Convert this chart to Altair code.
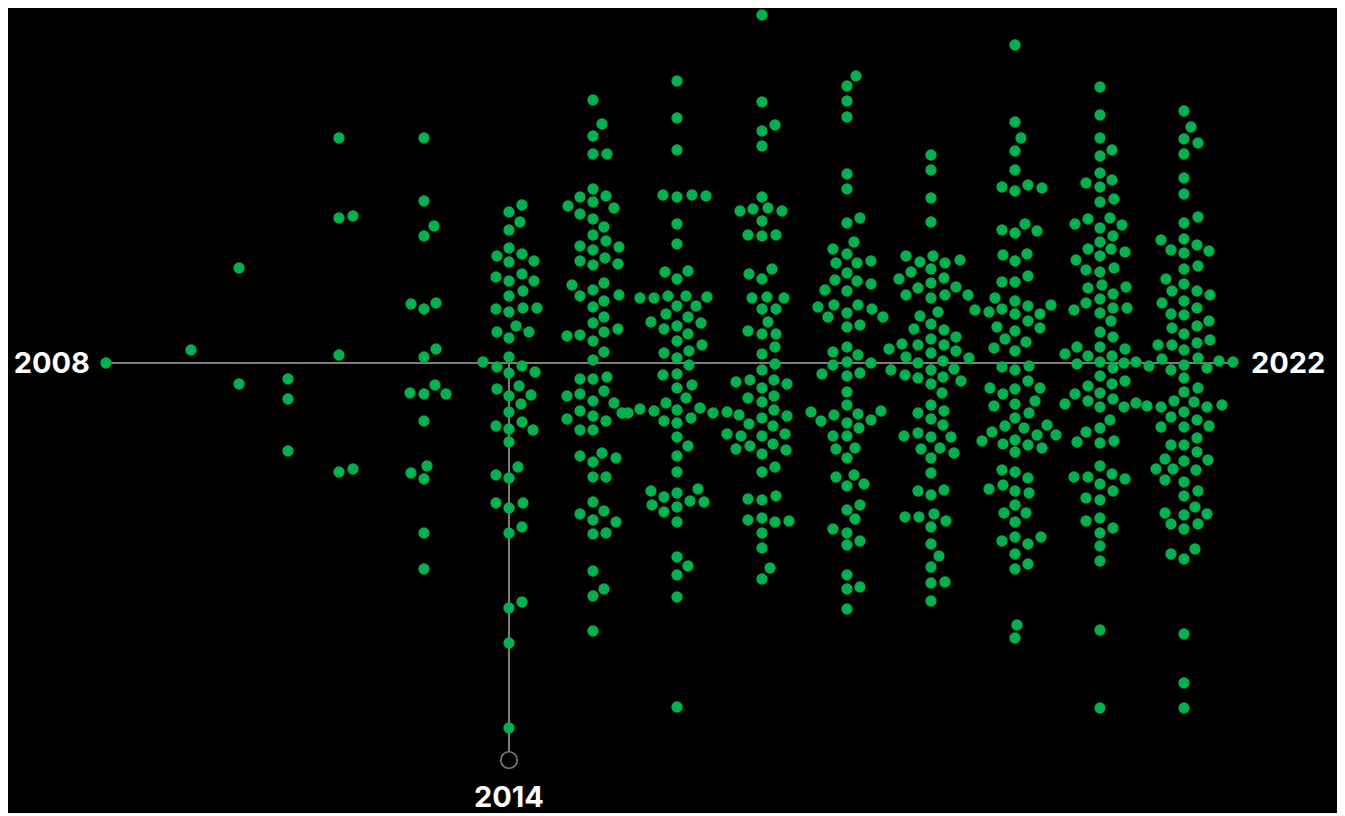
import altair as alt
import pandas as pd

# Each dot: (timeline position, value relative to the baseline; positive = above)
dots_2008 = [(106, 0)]
dots_2009 = [(191, 13)]
dots_2010 = [(239, 95), (239, -21)]
dots_2011 = [(288, -16), (288, -36), (288, -88)]
dots_2012 = [(339, 225), (339, 145), (353, 147), (339, 8), (339, -109), (353, -106)]
dots_2013 = [(424, 225), (424, 162), (434, 137), (424, 127), (411, 59), (424, 54), (436, 60),
             (424, 6), (436, 14), (410, -30), (424, -31), (435, -22), (446, -31), (424, -58),
             (411, -110), (427, -103), (424, -116), (424, -170), (424, -206)]
dots_2014 = [(522, 158), (509, 151), (520, 141), (509, 133), (509, 115), (497, 107), (522, 109),
             (509, 101), (534, 102), (496, 86), (522, 89), (509, 82), (534, 82), (509, 67),
             (523, 72), (496, 54), (509, 51), (523, 55), (537, 55), (497, 31), (516, 37),
             (509, 25), (529, 31), (509, 6), (483, 1), (497, -4), (522, -3), (509, -10),
             (535, -9), (497, -26), (519, -23), (509, -33), (531, -32), (521, -41), (509, -49),
             (496, -63), (509, -66), (522, -59), (533, -67), (509, -79), (518, -104), (496, -112),
             (509, -115), (496, -140), (509, -145), (523, -140), (509, -170), (522, -164),
             (509, -245), (522, -239), (509, -280), (509, -365)]
dots_2015 = [(593, 263), (602, 239), (593, 227), (593, 209), (607, 209), (593, 174), (580, 166),
             (606, 167), (568, 157), (593, 161), (614, 155), (580, 149), (593, 144), (604, 136),
             (593, 128), (580, 117), (606, 122), (593, 113), (619, 116), (605, 105), (580, 102),
             (593, 98), (618, 99), (572, 78), (604, 80), (580, 67), (593, 73), (619, 68), (604, 62),
             (593, 56), (604, 46), (593, 40), (567, 27), (580, 28), (604, 31), (618, 34), (593, 22),
             (604, 11), (593, 3), (580, -16), (593, -16), (607, -14), (567, -33), (580, -31),
             (604, -28), (593, -38), (614, -40), (580, -48), (567, -56), (593, -53), (606, -58),
             (622, -50), (628, -50), (580, -67), (593, -67), (580, -93), (593, -99), (602, -90),
             (616, -95), (593, -114), (606, -114), (593, -139), (580, -151), (604, -148),
             (593, -157), (616, -159), (593, -171), (606, -170), (593, -208), (604, -226),
             (593, -233), (593, -268)]
dots_2016 = [(677, 282), (677, 245), (677, 213), (663, 168), (677, 166), (692, 168), (706, 167),
             (677, 139), (677, 119), (665, 91), (688, 92), (677, 84), (640, 65), (654, 65),
             (668, 67), (686, 67), (707, 66), (677, 57), (696, 57), (666, 49), (651, 41), (688, 46),
             (664, 34), (677, 37), (701, 40), (688, 29), (677, 22), (664, 10), (689, 12), (702, 18),
             (677, 5), (689, -2), (663, -12), (677, -11), (692, -22), (677, -25), (686, -35),
             (640, -46), (654, -48), (666, -40), (677, -47), (700, -45), (713, -50), (664, -58),
             (677, -60), (691, -55), (677, -74), (688, -83), (677, -93), (677, -109), (651, -128),
             (664, -134), (677, -130), (698, -126), (652, -142), (664, -149), (677, -144),
             (690, -138), (704, -139), (677, -159), (677, -194), (688, -203), (677, -212),
             (677, -234), (677, -344)]
dots_2017 = [(762, 348), (762, 261), (775, 238), (762, 232), (762, 217), (762, 166), (740, 152),
             (753, 154), (768, 155), (782, 152), (762, 142), (748, 128), (762, 127), (776, 128),
             (749, 89), (772, 94), (762, 84), (752, 65), (767, 66), (784, 65), (762, 54), (776, 54),
             (768, 41), (748, 32), (762, 29), (776, 29), (775, 16), (762, 9), (775, -1), (762, -7),
             (736, -19), (750, -17), (774, -17), (787, -21), (762, -25), (748, -35), (774, -33),
             (762, -39), (727, -49), (739, -52), (774, -47), (787, -53), (749, -61), (762, -55),
             (773, -63), (727, -71), (741, -73), (762, -73), (785, -71), (736, -86), (750, -83),
             (773, -81), (762, -91), (786, -87), (762, -109), (775, -104), (748, -136), (762, -137),
             (776, -133), (748, -157), (762, -155), (775, -159), (789, -158), (762, -170),
             (762, -185), (770, -205), (762, -216)]
dots_2018 = [(856, 287), (847, 277), (847, 262), (847, 246), (847, 189), (847, 174), (847, 140),
             (860, 145), (854, 121), (833, 114), (847, 109), (836, 100), (857, 100), (871, 102),
             (847, 90), (835, 83), (857, 82), (871, 79), (825, 73), (847, 72), (818, 56), (834, 58),
             (858, 58), (828, 46), (847, 50), (872, 54), (883, 46), (847, 36), (860, 38), (847, 16),
             (833, 11), (858, 8), (833, -2), (847, 1), (871, 0), (822, -11), (847, -13), (860, -10),
             (847, -29), (847, -42), (811, -49), (821, -58), (834, -52), (847, -60), (858, -51),
             (871, -57), (881, -48), (859, -65), (833, -73), (847, -73), (836, -86), (855, -85),
             (847, -95), (836, -114), (854, -112), (847, -123), (864, -121), (847, -147),
             (860, -142), (855, -156), (833, -166), (847, -170), (860, -178), (847, -182),
             (847, -212), (847, -226), (860, -224), (847, -246)]
dots_2019 = [(931, 208), (931, 193), (931, 165), (931, 141), (906, 107), (920, 101), (933, 107),
             (945, 100), (960, 103), (911, 91), (931, 94), (899, 84), (944, 85), (918, 75), (931, 80),
             (956, 76), (906, 68), (931, 65), (945, 68), (968, 68), (975, 53), (920, 47), (938, 51),
             (931, 39), (914, 34), (944, 33), (902, 19), (918, 18), (931, 24), (956, 26), (889, 14),
             (906, 6), (931, 10), (944, 18), (956, 12), (969, 5), (918, 0), (943, 2), (931, -7),
             (954, -6), (891, -7), (905, -12), (918, -15), (943, -14), (961, -18), (931, -21),
             (942, -30), (931, -42), (918, -50), (944, -48), (931, -56), (943, -62), (904, -73),
             (918, -70), (931, -74), (951, -74), (921, -86), (940, -85), (931, -95), (954, -90),
             (931, -110), (918, -128), (931, -132), (944, -127), (905, -154), (919, -154),
             (934, -151), (931, -164), (946, -158), (931, -181), (939, -193), (931, -204),
             (931, -220), (945, -219), (931, -238)]
dots_2020 = [(1015, 318), (1015, 241), (1021, 225), (1015, 212), (1015, 193), (1002, 176),
             (1015, 172), (1028, 178), (1042, 175), (1002, 133), (1015, 130), (1025, 139),
             (1037, 132), (1003, 108), (1015, 102), (1027, 109), (1002, 81), (1015, 81), (1028, 87),
             (995, 65), (1015, 62), (989, 51), (1002, 54), (1015, 49), (1028, 57), (1040, 49),
             (1051, 58), (997, 36), (1015, 32), (1028, 42), (1040, 35), (1005, 24), (1026, 21),
             (994, 15), (1015, 12), (1002, -4), (1015, -7), (1029, -3), (990, -25), (1003, -31),
             (1015, -26), (1028, -18), (1040, -25), (994, -43), (1015, -41), (1035, -38),
             (1015, -55), (1029, -50), (992, -69), (1005, -63), (1024, -65), (1047, -62), (982, -78),
             (1003, -81), (1015, -77), (1037, -72), (1056, -72), (1015, -89), (1028, -82),
             (1042, -85), (1002, -107), (1015, -109), (1028, -115), (989, -126), (1003, -122),
             (1015, -128), (1029, -130), (1015, -142), (1004, -150), (1026, -150), (1015, -159),
             (1002, -178), (1015, -174), (1028, -181), (1041, -174), (1015, -191), (1028, -201),
             (1015, -206), (1017, -262), (1015, -275)]
dots_2021 = [(1100, 276), (1100, 248), (1100, 225), (1112, 213), (1100, 207), (1100, 190),
             (1086, 180), (1112, 183), (1100, 176), (1100, 161), (1114, 164), (1075, 139),
             (1088, 144), (1110, 145), (1100, 135), (1122, 138), (1113, 127), (1100, 121),
             (1088, 114), (1111, 114), (1125, 111), (1076, 103), (1100, 107), (1086, 93), (1100, 91),
             (1114, 95), (1088, 75), (1102, 78), (1126, 76), (1113, 69), (1086, 60), (1100, 64),
             (1074, 53), (1100, 50), (1113, 55), (1127, 55), (1111, 42), (1100, 31), (1113, 26),
             (1077, 16), (1065, 9), (1088, 7), (1100, 16), (1125, 14), (1112, 7), (1077, -1),
             (1100, 1), (1124, 0), (1136, 1), (1113, -5), (1100, -13), (1088, -23), (1112, -21),
             (1125, -18), (1075, -31), (1100, -30), (1088, -38), (1113, -36), (1065, -41),
             (1100, -44), (1124, -44), (1110, -57), (1086, -69), (1100, -65), (1077, -79),
             (1100, -80), (1114, -78), (1100, -103), (1074, -114), (1088, -114), (1112, -111),
             (1100, -121), (1125, -116), (1086, -135), (1100, -137), (1113, -128), (1086, -158),
             (1100, -155), (1100, -170), (1113, -165), (1100, -183), (1100, -198), (1100, -267),
             (1100, -345)]
dots_2022 = [(1184, 252), (1191, 236), (1184, 224), (1198, 220), (1184, 209), (1184, 185),
             (1184, 169), (1184, 140), (1198, 146), (1161, 123), (1184, 124), (1171, 113),
             (1184, 110), (1197, 118), (1209, 112), (1184, 94), (1198, 97), (1166, 84), (1184, 79),
             (1172, 72), (1197, 72), (1210, 68), (1162, 60), (1184, 62), (1197, 55), (1171, 49),
             (1184, 48), (1209, 42), (1172, 35), (1197, 37), (1184, 29), (1158, 18), (1172, 18),
             (1197, 20), (1210, 23), (1184, 13), (1149, -3), (1162, 4), (1171, -7), (1184, -2),
             (1198, 5), (1207, -5), (1219, 2), (1233, 1), (1184, -15), (1198, -25), (1184, -29),
             (1136, -40), (1147, -43), (1161, -44), (1174, -38), (1194, -39), (1207, -44),
             (1222, -42), (1171, -54), (1184, -49), (1197, -57), (1161, -64), (1184, -64),
             (1209, -63), (1197, -75), (1171, -82), (1184, -82), (1197, -89), (1165, -96),
             (1156, -106), (1173, -106), (1184, -98), (1208, -97), (1196, -107), (1165, -117),
             (1184, -119), (1198, -128), (1184, -133), (1195, -144), (1165, -150), (1184, -152),
             (1207, -151), (1171, -161), (1198, -161), (1184, -166), (1171, -191), (1184, -196),
             (1195, -186), (1184, -271), (1184, -320), (1184, -345)]

year_dots = {
    2008: dots_2008, 2009: dots_2009, 2010: dots_2010, 2011: dots_2011, 2012: dots_2012,
    2013: dots_2013, 2014: dots_2014, 2015: dots_2015, 2016: dots_2016, 2017: dots_2017,
    2018: dots_2018, 2019: dots_2019, 2020: dots_2020, 2021: dots_2021, 2022: dots_2022,
}

highlight_year = 2014
highlight_pos = 509          # timeline position of the 2014 column
highlight_value = -397       # value of the hollow marker below the 2014 column

label_start = "2008"
label_end = "2022"
label_highlight = "2014"

GREEN = "#03b04e"
GREY = "#7d7d7d"
FONT = "Inter"

rows = [{"year": y, "t": t, "v": v} for y, pts in year_dots.items() for t, v in pts]
df = pd.DataFrame(rows)

t_min = df["t"].min()
t_max = df["t"].max()

xs = alt.Scale(domain=[8, 1337], nice=False, zero=False)
ys = alt.Scale(domain=[-445, 355], nice=False, zero=False)

base_line = alt.Chart(pd.DataFrame({"t": [t_min], "t2": [t_max], "v": [0]})).mark_rule(
    color=GREY, strokeWidth=2
).encode(
    x=alt.X("t:Q", scale=xs, axis=None),
    x2="t2:Q",
    y=alt.Y("v:Q", scale=ys, axis=None),
)

stem = alt.Chart(pd.DataFrame({"t": [highlight_pos], "v": [0], "v2": [highlight_value]})).mark_rule(
    color=GREY, strokeWidth=2
).encode(
    x=alt.X("t:Q", scale=xs, axis=None),
    y=alt.Y("v:Q", scale=ys, axis=None),
    y2="v2:Q",
)

dots = alt.Chart(df).mark_circle(size=128, color=GREEN, opacity=1).encode(
    x=alt.X("t:Q", scale=xs, axis=None),
    y=alt.Y("v:Q", scale=ys, axis=None),
)

marker = alt.Chart(pd.DataFrame({"t": [highlight_pos], "v": [highlight_value]})).mark_point(
    shape="circle", size=270, filled=True, fill="#000000", stroke=GREY, strokeWidth=1.6, opacity=1
).encode(
    x=alt.X("t:Q", scale=xs, axis=None),
    y=alt.Y("v:Q", scale=ys, axis=None),
)

txt = dict(font=FONT, fontSize=29, fontWeight="bold", color="#ffffff", baseline="middle")

lbl_start = alt.Chart(pd.DataFrame({"t": [t_min], "v": [0], "s": [label_start]})).mark_text(
    align="right", dx=-16, dy=1, **txt
).encode(x=alt.X("t:Q", scale=xs, axis=None), y=alt.Y("v:Q", scale=ys, axis=None), text="s:N")

lbl_end = alt.Chart(pd.DataFrame({"t": [t_max], "v": [0], "s": [label_end]})).mark_text(
    align="left", dx=18, dy=1, **txt
).encode(x=alt.X("t:Q", scale=xs, axis=None), y=alt.Y("v:Q", scale=ys, axis=None), text="s:N")

lbl_hl = alt.Chart(pd.DataFrame({"t": [highlight_pos], "v": [highlight_value], "s": [label_highlight]})).mark_text(
    align="center", dy=38, **txt
).encode(x=alt.X("t:Q", scale=xs, axis=None), y=alt.Y("v:Q", scale=ys, axis=None), text="s:N")

chart = alt.layer(base_line, stem, dots, marker, lbl_start, lbl_end, lbl_hl).properties(
    width=1329, height=800, padding=0, background="#000000",
).configure_view(strokeWidth=0)

chart.save("out.html", embed_options={"renderer": "svg", "actions": False})
